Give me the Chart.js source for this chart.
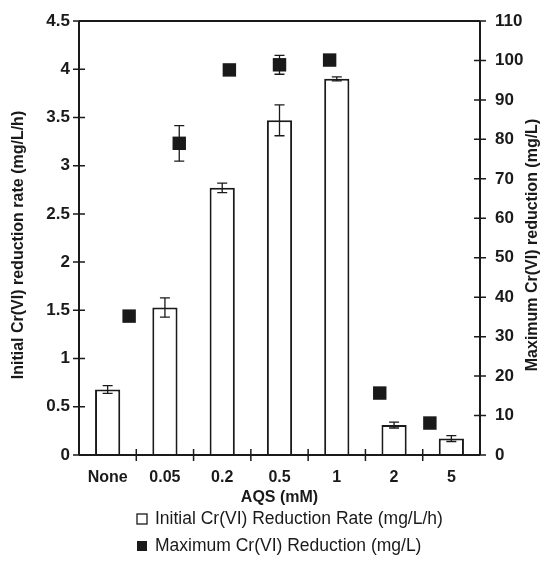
<!DOCTYPE html>
<html>
<head>
<meta charset="utf-8">
<script src="https://cdn.jsdelivr.net/npm/chart.js@4"></script>
<style>
  html, body { margin: 0; padding: 0; background: #fff; }
  #wrap { width: 542px; height: 572px; }
</style>
</head>
<body>
<div id="wrap"><canvas id="chart" width="542" height="572"></canvas></div>
<script>
// AQS dose categories
var labels = ['None', '0.05', '0.2', '0.5', '1', '2', '5'];

// initial Cr(VI) reduction rate (mg/L/h), left axis, with +/- error
var rateValues = [0.68, 1.53, 2.77, 3.47, 3.90, 0.31, 0.17];
var rateErrors = [0.04, 0.10, 0.05, 0.16, 0.02, 0.03, 0.03];

// maximum Cr(VI) reduction (mg/L), right axis, with +/- error
var maxValues = [35.2, 79.0, 97.6, 98.9, 100.1, 15.7, 8.1];
var maxErrors = [0.8, 4.5, 0.8, 2.4, 0.4, 0.4, 0.5];

var leftTicks = [0, 0.5, 1, 1.5, 2, 2.5, 3, 3.5, 4, 4.5];
var rightTicks = [0, 10, 20, 30, 40, 50, 60, 70, 80, 90, 100, 110];

var ink = '#1a1a1a';
var fam = '"Liberation Sans", Arial, sans-serif';
var ctx = document.getElementById('chart').getContext('2d');

// markers sit on their own (hidden) x axis, like the excel secondary axis
var maxPoints = maxValues.map(function (v, i) { return { x: i + 1, y: v }; });

var chromePlugin = {
  id: 'chrome',
  afterDatasetsDraw: function (chart) {
    var c = chart.ctx, a = chart.chartArea;
    var x = chart.scales.x, y = chart.scales.y, y2 = chart.scales.y2, x2 = chart.scales.x2;
    c.save();
    c.strokeStyle = ink;

    // error bars for the bars
    c.lineWidth = 1.3;
    rateValues.forEach(function (v, i) {
      var px = x.getPixelForValue(i);
      var top = y.getPixelForValue(v + rateErrors[i]);
      var bot = y.getPixelForValue(v - rateErrors[i]);
      c.beginPath();
      c.moveTo(px, top); c.lineTo(px, bot);
      c.moveTo(px - 5, top); c.lineTo(px + 5, top);
      c.moveTo(px - 5, bot); c.lineTo(px + 5, bot);
      c.stroke();
    });
    // error bars for the markers
    maxValues.forEach(function (v, i) {
      var px = x2.getPixelForValue(i + 1);
      var top = y2.getPixelForValue(v + maxErrors[i]);
      var bot = y2.getPixelForValue(v - maxErrors[i]);
      c.beginPath();
      c.moveTo(px, top); c.lineTo(px, bot);
      c.moveTo(px - 5, top); c.lineTo(px + 5, top);
      c.moveTo(px - 5, bot); c.lineTo(px + 5, bot);
      c.stroke();
    });

    // frame
    c.lineWidth = 2;
    c.beginPath();
    c.moveTo(a.left, a.top); c.lineTo(a.right, a.top);
    c.moveTo(a.left, a.top); c.lineTo(a.left, a.bottom);
    c.moveTo(a.right, a.top); c.lineTo(a.right, a.bottom);
    c.moveTo(a.left, a.bottom); c.lineTo(a.right, a.bottom);
    c.stroke();

    // crossing tick marks
    c.lineWidth = 1.5;
    c.beginPath();
    leftTicks.forEach(function (t) {
      var py = y.getPixelForValue(t);
      c.moveTo(a.left - 6, py); c.lineTo(a.left + 6, py);
    });
    rightTicks.forEach(function (t) {
      var py = y2.getPixelForValue(t);
      c.moveTo(a.right - 6, py); c.lineTo(a.right + 6, py);
    });
    for (var i = 1; i < labels.length; i++) {
      var px = (x.getPixelForValue(i - 1) + x.getPixelForValue(i)) / 2;
      c.moveTo(px, a.bottom - 6); c.lineTo(px, a.bottom + 6);
    }
    c.stroke();

    // axis titles
    c.fillStyle = ink;
    c.font = 'bold 16px ' + fam;
    c.textAlign = 'center';
    c.textBaseline = 'middle';
    var midY = 245;
    c.save();
    c.translate(19, midY); c.rotate(-Math.PI / 2);
    c.fillText('Initial Cr(VI) reduction rate (mg/L/h)', 0, 0);
    c.restore();
    c.save();
    c.translate(533, midY); c.rotate(-Math.PI / 2);
    c.fillText('Maximum Cr(VI) reduction (mg/L)', 0, 0);
    c.restore();
    c.fillText('AQS (mM)', (a.left + a.right) / 2, 498);

    // legend, left aligned rows
    c.font = '17.5px ' + fam;
    c.textAlign = 'left';
    var lx = 137;
    chart.data.datasets.forEach(function (ds, k) {
      var ly = k === 0 ? 519 : 546;
      c.lineWidth = 1.3;
      if (k === 0) {
        c.fillStyle = '#fff';
        c.fillRect(lx, ly - 5, 10, 10);
        c.strokeRect(lx, ly - 5, 10, 10);
      } else {
        c.fillStyle = ink;
        c.fillRect(lx, ly - 5, 10, 10);
      }
      c.fillStyle = ink;
      c.fillText(ds.label, lx + 18, ly);
    });
    c.restore();
  }
};

function plain(v) { return String(v); }

new Chart(ctx, {
  type: 'bar',
  data: {
    labels: labels,
    datasets: [{
      label: 'Initial Cr(VI) Reduction Rate (mg/L/h)',
      data: rateValues,
      yAxisID: 'y',
      xAxisID: 'x',
      backgroundColor: '#ffffff',
      borderColor: ink,
      borderWidth: 2,
      grouped: false,
      barPercentage: 0.44,
      categoryPercentage: 1.0,
      order: 2
    }, {
      type: 'scatter',
      label: 'Maximum Cr(VI) Reduction (mg/L)',
      data: maxPoints,
      yAxisID: 'y2',
      xAxisID: 'x2',
      pointStyle: 'rect',
      pointRadius: 9.5,
      backgroundColor: ink,
      borderColor: ink,
      borderWidth: 0,
      order: 1
    }]
  },
  options: {
    responsive: false,
    animation: false,
    layout: { padding: { top: 21, left: 0, right: 0, bottom: 0 } },
    plugins: { legend: { display: false }, tooltip: { enabled: false } },
    scales: {
      x: {
        type: 'category',
        position: 'bottom',
        offset: true,
        grid: { display: false },
        border: { display: false },
        ticks: { color: ink, font: { size: 16, weight: 'bold', family: fam }, padding: 5, maxRotation: 0 },
        afterFit: function (s) { s.height = 117; }
      },
      x2: {
        type: 'linear',
        display: false,
        offset: false,
        min: 0,
        max: 8
      },
      y: {
        position: 'left',
        min: 0,
        max: 4.5,
        grid: { display: false },
        border: { display: false },
        afterBuildTicks: function (s) { s.ticks = leftTicks.map(function (v) { return { value: v }; }); },
        ticks: { color: ink, font: { size: 17, weight: 'bold', family: fam }, padding: 1, callback: plain },
        afterFit: function (s) { s.width = 79; }
      },
      y2: {
        position: 'right',
        min: 0,
        max: 110,
        grid: { display: false },
        border: { display: false },
        afterBuildTicks: function (s) { s.ticks = rightTicks.map(function (v) { return { value: v }; }); },
        ticks: { color: ink, font: { size: 17, weight: 'bold', family: fam }, padding: 7, callback: plain },
        afterFit: function (s) { s.width = 62; }
      }
    }
  },
  plugins: [chromePlugin]
});
</script>
</body>
</html>
